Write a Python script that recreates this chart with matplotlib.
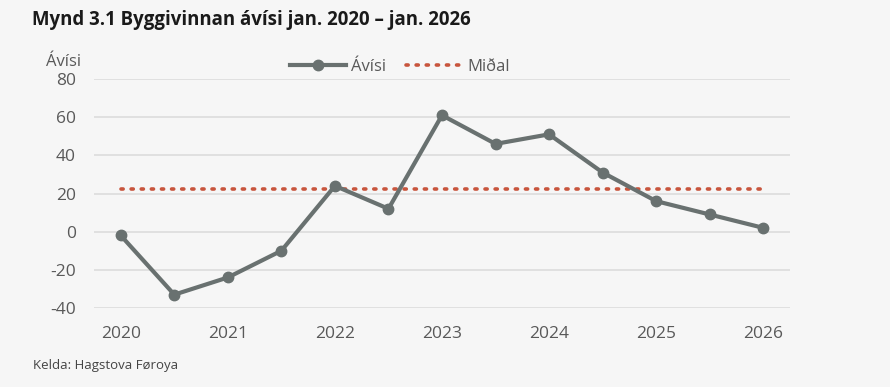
import matplotlib
matplotlib.use("Agg")
import matplotlib.pyplot as plt
from matplotlib.lines import Line2D

periods = ["2020", "2020H2", "2021", "2021H2", "2022", "2022H2", "2023", "2023H2",
           "2024", "2024H2", "2025", "2025H2", "2026"]
avisi = [-2, -33, -24, -10, 24, 12, 61, 46, 51, 31, 16, 9, 2]
midal = 22.3
year_labels = ["2020", "2021", "2022", "2023", "2024", "2025", "2026"]
yticks = [-40, -20, 0, 20, 40, 60, 80]

plt.rcParams['font.family'] = ['Open Sans', 'DejaVu Sans']
plt.rcParams['axes.unicode_minus'] = False

bg = "#f6f6f6"
fig = plt.figure(figsize=(8.9, 3.87), dpi=100, facecolor=bg)
ax = fig.add_axes([94/890, 1-308/387, (790-94)/890, (308-79)/387], facecolor=bg)

x = list(range(len(avisi)))
line_col = "#697170"
ax.plot(x, avisi, color=line_col, lw=3, marker="o", ms=7.5, zorder=3)
ax.plot([x[0], x[-1] - 0.05], [midal, midal], color="#c8553d", lw=2.6,
        linestyle=(0, (0.6, 2.2)), dash_capstyle="round", zorder=2)

ax.set_xlim(-0.5, len(avisi) - 0.5)
ax.set_ylim(-40, 80)
ax.set_yticks(yticks)
ax.set_yticklabels([str(v) for v in yticks])
ax.set_xticks(x[::2])
ax.set_xticklabels(year_labels)
ax.grid(axis="y", color="#dcdcdc", lw=1.2)
ax.grid(axis="x", visible=False)
for s in ax.spines.values():
    s.set_visible(False)
ax.tick_params(axis="both", length=0, labelsize=12.5, labelcolor="#595959")
ax.tick_params(axis="y", pad=13)
ax.tick_params(axis="x", pad=13)

fig.text(32/890, 1-20/387, "Mynd 3.1 Byggivinnan ávísi jan. 2020 – jan. 2026",
         fontsize=13.4, fontweight="bold", color="#1a1a1a", va="center", ha="left")
fig.text(64/890, 1-62/387, "Ávísi", fontsize=12, color="#595959", ha="center", va="center")
fig.text(33/890, 1-365/387, "Kelda: Hagstova Føroya", fontsize=9.5, color="#444444",
         ha="left", va="center")

handles = [Line2D([], [], color=line_col, lw=3, marker="o", ms=7.5),
           Line2D([], [], color="#c8553d", lw=2.6, linestyle=(0, (0.6, 2.2)),
                  dash_capstyle="round")]
leg = fig.legend(handles, ["Ávísi", "Miðal"], loc="center", bbox_to_anchor=(400/890, 1-67/387),
                 ncol=2, frameon=False, fontsize=12, handlelength=3.4, handletextpad=0.3,
                 columnspacing=1.2)
for t in leg.get_texts():
    t.set_color("#595959")

fig.savefig("out.png", dpi=100, facecolor=bg)
